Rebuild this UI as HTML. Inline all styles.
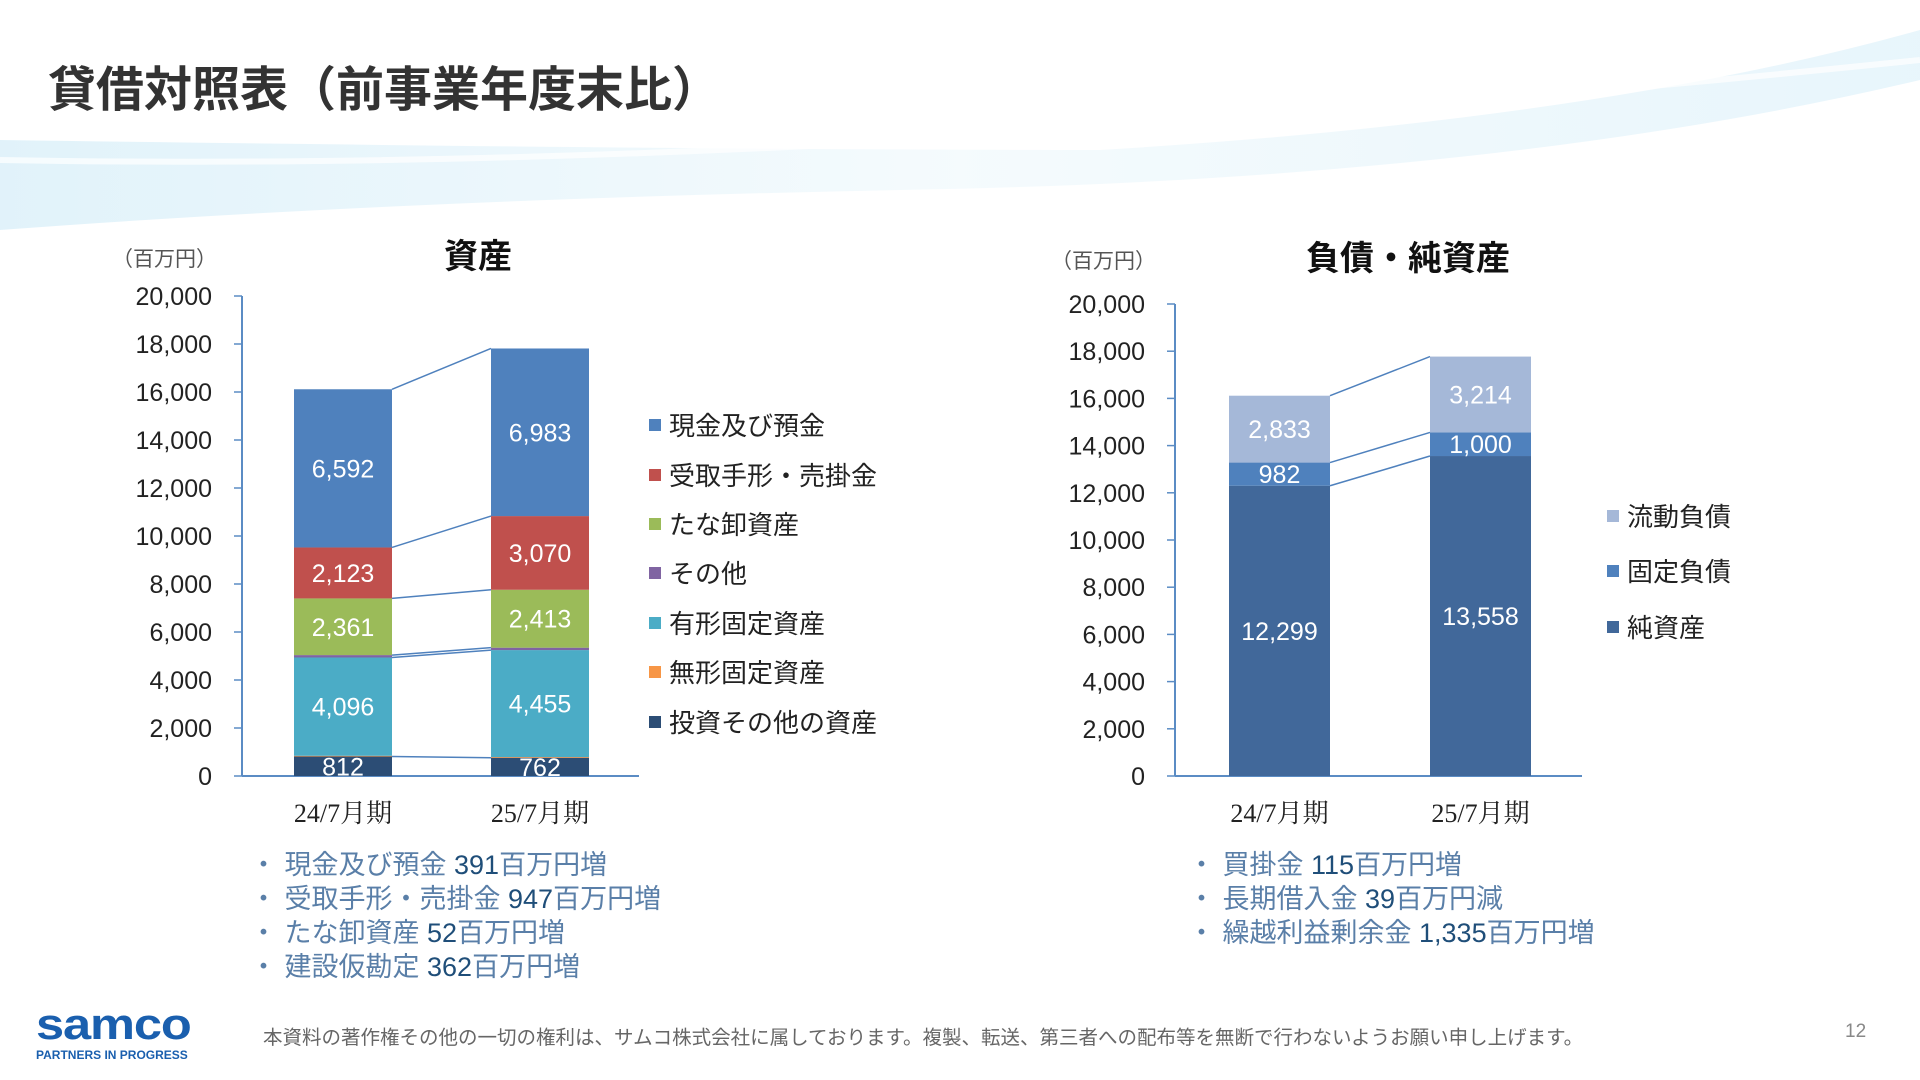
<!DOCTYPE html>
<html><head><meta charset="utf-8">
<style>
body{margin:0;width:1920px;height:1080px;background:#fff;overflow:hidden;position:relative;font-family:"Liberation Sans","Noto Sans CJK JP",sans-serif}
.t{position:absolute;white-space:nowrap}
.bul{position:absolute;font-size:27px;color:#5a7fa8;line-height:34px}
.bul b{font-weight:normal;color:#1f4e79}
</style></head><body>
<svg width="1920" height="260" style="position:absolute;left:0;top:0">
<defs><linearGradient id="g" x1="0" x2="1"><stop offset="0" stop-color="#cdeaf7"/><stop offset="0.5" stop-color="#eef8fc"/><stop offset="1" stop-color="#d8eff9"/></linearGradient></defs>
<path d="M0 140 Q700 150 1100 150 Q1600 120 1920 30 L1920 80 Q1500 180 900 190 Q400 200 0 230 Z" fill="url(#g)" opacity="0.6"/>
<path d="M0 160 Q800 175 1920 60" stroke="#ffffff" stroke-width="6" fill="none" opacity="0.7"/>
</svg>
<div class="t" style="left:48px;top:50px;font-size:48px;font-weight:bold;color:#333">貸借対照表（前事業年度末比）</div>

<svg id="chart" width="1920" height="1080" style="position:absolute;left:0;top:0"></svg>

<div class="bul" style="left:250px;top:848px">
・ 現金及び預金 <b>391</b>百万円増<br>・ 受取手形・売掛金 <b>947</b>百万円増<br>・ たな卸資産 <b>52</b>百万円増<br>・ 建設仮勘定 <b>362</b>百万円増</div>
<div class="bul" style="left:1188px;top:848px">
・ 買掛金 <b>115</b>百万円増<br>・ 長期借入金 <b>39</b>百万円減<br>・ 繰越利益剰余金 <b>1,335</b>百万円増</div>

<div style="position:absolute;left:36px;top:1006px">
<div style="font-family:'Liberation Sans',sans-serif;font-weight:900;font-size:44px;color:#1a5fae;letter-spacing:-1px;line-height:38px;transform:scaleX(1.15);transform-origin:left">samco</div>
<div style="font-size:12px;font-weight:bold;color:#1a5fae;margin-top:4px">PARTNERS IN PROGRESS</div></div>
<div class="t" style="left:263px;top:1021px;font-size:19.5px;color:#666">本資料の著作権その他の一切の権利は、サムコ株式会社に属しております。複製、転送、第三者への配布等を無断で行わないようお願い申し上げます。</div>
<div class="t" style="left:1845px;top:1021px;font-size:19px;color:#888">12</div>

<script>
const categories=["24/7月期","25/7月期"];
const assetNames=["投資その他の資産","無形固定資産","有形固定資産","その他","たな卸資産","受取手形・売掛金","現金及び預金"];
const assetColors=["#2c4d75","#f79646","#4bacc6","#8064a2","#9bbb59","#c0504d","#4f81bd"];
const assets24=[812,30,4096,100,2361,2123,6592];
const assets25=[762,30,4455,100,2413,3070,6983];
const liabNames=["純資産","固定負債","流動負債"];
const liabColors=["#41689a","#4f81bd","#a5b8d8"];
const liab24=[12299,982,2833];
const liab25=[13558,1000,3214];
const ticks=[0,2000,4000,6000,8000,10000,12000,14000,16000,18000,20000];
const tickLabels=["0","2,000","4,000","6,000","8,000","10,000","12,000","14,000","16,000","18,000","20,000"];

const NS="http://www.w3.org/2000/svg";
const svg=document.getElementById('chart');
function mk(tag,attrs,txt){const e=document.createElementNS(NS,tag);for(const k in attrs)e.setAttribute(k,attrs[k]);if(txt!==undefined)e.textContent=txt;svg.appendChild(e);return e;}
const fmt=v=>v.toLocaleString('en-US');

function drawChart(o){
  const y=v=>o.y0-v*(o.y0-o.y1)/20000;
  let e=mk('line',{x1:o.ax,x2:o.ax,y1:o.y1,y2:o.y0,stroke:'#5b8cc4','stroke-width':2});
  
  e=mk('line',{x1:o.ax,x2:o.axEnd,y1:o.y0,y2:o.y0,stroke:'#5b8cc4','stroke-width':2});
  
  ticks.forEach((t,i)=>{
    mk('line',{x1:o.ax-8,x2:o.ax,y1:y(t),y2:y(t),stroke:'#5b8cc4','stroke-width':1.5});
    e=mk('text',{x:o.ax-30,y:y(t)+9,'text-anchor':'end','font-size':25,fill:'#222'},tickLabels[i]);
    
  });
  const series=[o.s1,o.s2];
  const tops=[[],[]];
  series.forEach((vals,ci)=>{
    const bx=o.bx[ci];let cum=0;
    vals.forEach((v,si)=>{
      const yt=y(cum+v),yb=y(cum);
      e=mk('rect',{x:bx,y:yt,width:o.bw,height:yb-yt,fill:o.colors[si]});
      
      cum+=v;tops[ci].push(yt);
      if(v>=500){
        e=mk('text',{x:bx+o.bw/2,y:(yt+yb)/2+9,'text-anchor':'middle','font-size':25,fill:'#fff'},fmt(v));
        
      }
    });
    e=mk('text',{x:bx+o.bw/2,y:o.y0+46,'text-anchor':'middle','font-size':26,fill:'#222','font-family':'"Liberation Serif","Noto Serif CJK SC",serif'},categories[ci]);
    
  });
  o.conn.forEach(si=>{
    e=mk('line',{x1:o.bx[0]+o.bw,y1:tops[0][si],x2:o.bx[1],y2:tops[1][si],stroke:'#4f81bd','stroke-width':1.5});
    
  });
  o.names.forEach((n,i)=>{
    const ly=o.legY[i];
    e=mk('rect',{x:o.lx,y:ly-6,width:12,height:12,fill:o.legColors[i]});
    
    e=mk('text',{x:o.lx+20,y:ly+10,'font-size':26,fill:'#222'},n);
    
  });
  e=mk('text',{x:o.unitX,y:o.titleY,'font-size':21,fill:'#555'},'（百万円）');
  
  e=mk('text',{x:o.titleX,y:o.titleY+2,'font-size':34,'font-weight':'bold','text-anchor':'middle',fill:'#111'},o.title);
  
}
drawChart({key:'assets',ax:242,axEnd:639,y0:776,y1:296,bx:[294,491],bw:98,s1:assets24,s2:assets25,colors:assetColors,
  names:assetNames.slice().reverse(),legColors:assetColors.slice().reverse(),legY:[425,475,524,573,623,672,722],lx:649,conn:[0,2,3,4,5,6],
  unitX:112,titleX:478,titleY:266,title:'資産'});
drawChart({key:'liab',ax:1175,axEnd:1582,y0:776,y1:304,bx:[1229,1430],bw:101,s1:liab24,s2:liab25,colors:liabColors,
  names:liabNames.slice().reverse(),legColors:liabColors.slice().reverse(),legY:[516,571,627],lx:1607,conn:[0,1,2],
  unitX:1051,titleX:1408,titleY:268,title:'負債・純資産'});
</script>
</body></html>
